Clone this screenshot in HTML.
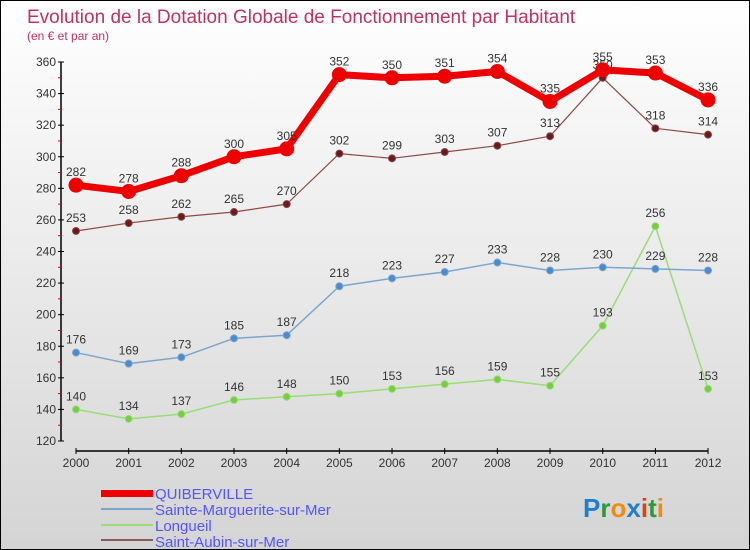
<!DOCTYPE html>
<html><head><meta charset="utf-8"><style>
body{margin:0}
#w{position:relative;width:748px;height:548px;border:1px solid #000;background:linear-gradient(#fff,#d4d4d4);font-family:"Liberation Sans",sans-serif;overflow:hidden}
</style></head><body>
<div id="w">
<svg id="s" width="748" height="548">
<text x="26" y="22" font-size="19" fill="#c0335f">Evolution de la Dotation Globale de Fonctionnement par Habitant</text>
<text x="26" y="39" font-size="12" fill="#c0335f">(en € et par an)</text>
<g id="axes"></g><g id="series"></g>
<g id="legend" font-size="15" fill="#5555ff">
<rect x="100" y="489" width="52" height="7" fill="#e00"/>
<text x="154" y="498">QUIBERVILLE</text>
<rect x="100" y="507" width="52" height="2" fill="#7aa6cc"/>
<text x="154" y="514">Sainte-Marguerite-sur-Mer</text>
<rect x="100" y="523" width="52" height="2" fill="#99dd77"/>
<text x="154" y="530">Longueil</text>
<rect x="100" y="538" width="52" height="2" fill="#8a5a5a"/>
<text x="154" y="546">Saint-Aubin-sur-Mer</text>
</g>
<text x="582" y="516" font-size="26" font-weight="bold"><tspan fill="#1e7fd0">P</tspan><tspan fill="#2a9a3a">r</tspan><tspan fill="#f08a10">o</tspan><tspan fill="#1e7fd0">x</tspan><tspan fill="#e04010">i</tspan><tspan fill="#2a9a3a">t</tspan><tspan fill="#f08a10">i</tspan></text>
</svg></div>
<script>
const years=[2000,2001,2002,2003,2004,2005,2006,2007,2008,2009,2010,2011,2012];
const quiberville=[282,278,288,300,305,352,350,351,354,335,355,353,336];
const sainteMarguerite=[176,169,173,185,187,218,223,227,233,228,230,229,228];
const longueil=[140,134,137,146,148,150,153,156,159,155,193,256,153];
const saintAubin=[253,258,262,265,270,302,299,303,307,313,350,318,314];
const yTicks=[120,140,160,180,200,220,240,260,280,300,320,340,360];
const NS='http://www.w3.org/2000/svg';
const X=i=>75+i*52.67, Y=v=>440-(v-120)*379/240;
function el(t,a,p){const e=document.createElementNS(NS,t);for(const k in a)e.setAttribute(k,a[k]);p.appendChild(e);return e;}
const ax=document.getElementById('axes'),sr=document.getElementById('series');
let l=el('line',{x1:60,y1:Y(360),x2:60,y2:440,stroke:'#000','stroke-width':1.5},ax);

l=el('line',{x1:X(0),y1:450,x2:X(12),y2:450,stroke:'#000','stroke-width':1.5},ax);

yTicks.forEach((v,i)=>{el('line',{x1:57,y1:Y(v),x2:63,y2:Y(v),stroke:'#000'},ax);
 if(i<yTicks.length-1)el('line',{x1:57,y1:Y(v+10),x2:60,y2:Y(v+10),stroke:'#e00'},ax);
 const t=el('text',{x:55,y:Y(v)+4,'font-size':12,'text-anchor':'end',fill:'#333'},ax);t.textContent=v;
 });
years.forEach((y,i)=>{el('line',{x1:X(i),y1:447,x2:X(i),y2:453,stroke:'#000'},ax);
 const t=el('text',{x:X(i),y:466,'font-size':12,'text-anchor':'middle',fill:'#333'},ax);t.textContent=y;
 });
function series(d,name,col,dot,w,r){
 const p=el('polyline',{points:d.map((v,i)=>X(i)+','+Y(v)).join(' '),fill:'none',stroke:col,'stroke-width':w,'stroke-linejoin':'round'},sr);
 
 d.forEach((v,i)=>{const c=el('circle',{cx:X(i),cy:Y(v),r:r,fill:dot,stroke:col,'stroke-width':1},sr);
  
  const t=el('text',{x:X(i),y:Y(v)-9,'font-size':12,'text-anchor':'middle',fill:'#333'},sr);t.textContent=v;
  });
}
series(longueil,'longueil','#99dd77','#77cc44',1.5,3.5);
series(sainteMarguerite,'sainte-marguerite','#7aa6cc','#4a8ad0',1.5,3.5);
series(saintAubin,'saint-aubin','#8a4a4a','#6a1a1a',1.2,3.5);
series(quiberville,'quiberville','#ee0000','#ee0000',7,7);
</script>
</body></html>
